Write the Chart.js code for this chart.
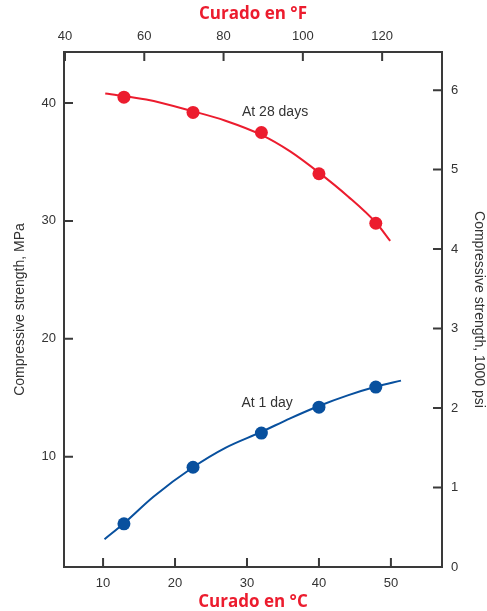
<!DOCTYPE html>
<html>
<head>
<meta charset="utf-8">
<script src="https://cdn.jsdelivr.net/npm/chart.js@4"></script>
<style>
  body { margin: 0; background: #fff; }
  #wrap { width: 487px; height: 611px; }
</style>
</head>
<body>
<div id="wrap"><canvas id="myChart" width="487" height="611"></canvas></div>
<script>
// measured points (°C, MPa)
const tempC = [12.9, 22.5, 32, 40, 47.9];
const strength28 = [40.5, 39.2, 37.5, 34.0, 29.8];
const strength1 = [4.3, 9.1, 12.0, 14.2, 15.9];

// fitted curves
const curve28C = [10.3, 16, 22.5, 27, 32, 36, 40, 44, 48, 49.9];
const curve28 = [40.8, 40.3, 39.3, 38.5, 37.3, 35.9, 34.1, 32.1, 29.8, 28.3];
const curve1C = [10.2, 13, 17, 22.5, 27, 32, 36, 40, 44, 48, 51.4];
const curve1 = [3.0, 4.4, 6.6, 9.1, 10.75, 12.1, 13.25, 14.3, 15.2, 15.95, 16.45];

// tick labels
const cTicks = [10, 20, 30, 40, 50];
const fTicks = [40, 60, 80, 100, 120];
const mpaTicks = [10, 20, 30, 40];
const psiTicks = [0, 1, 2, 3, 4, 5, 6];

// curve labels
const notes = ['At 28 days', 'At 1 day'];
const noteC = [33.9, 32.8];
const noteMPa = [39.2, 14.5];

const red = 'rgb(236, 28, 46)';
const blue = 'rgb(8, 80, 158)';
const ink = '#333';
const sans = 'Liberation Sans, Arial, sans-serif';
const tickFont = { family: sans, size: 13 };
const redFont = { family: 'Open Sans, sans-serif', size: 17, weight: 'bold' };

const toXY = (xs, ys) => xs.map((x, i) => ({ x: x, y: ys[i] }));

const setTicks = list => scale => { scale.ticks = list.map(v => ({ value: v })); };

// inward tick marks + curve labels
const decor = {
  id: 'decor',
  afterDraw(chart) {
    const ctx = chart.ctx;
    const a = chart.chartArea;
    const len = 9;
    ctx.save();
    ctx.strokeStyle = '#3a3a3a';
    ctx.lineWidth = 2;
    ctx.beginPath();
    chart.scales.x.ticks.forEach(t => {
      const px = chart.scales.x.getPixelForValue(t.value);
      ctx.moveTo(px, a.bottom); ctx.lineTo(px, a.bottom - len);
    });
    chart.scales.x2.ticks.forEach(t => {
      const px = chart.scales.x2.getPixelForValue(t.value);
      ctx.moveTo(px, a.top); ctx.lineTo(px, a.top + len);
    });
    chart.scales.y.ticks.forEach(t => {
      const py = chart.scales.y.getPixelForValue(t.value);
      ctx.moveTo(a.left, py); ctx.lineTo(a.left + len, py);
    });
    chart.scales.y2.ticks.forEach(t => {
      const py = chart.scales.y2.getPixelForValue(t.value);
      ctx.moveTo(a.right, py); ctx.lineTo(a.right - len, py);
    });
    ctx.stroke();

    ctx.fillStyle = ink;
    ctx.font = '14px ' + sans;
    ctx.textAlign = 'center';
    ctx.textBaseline = 'middle';
    notes.forEach((n, i) => {
      ctx.fillText(n, chart.scales.x.getPixelForValue(noteC[i]), chart.scales.y.getPixelForValue(noteMPa[i]));
    });
    ctx.restore();
  }
};

const ctx = document.getElementById('myChart').getContext('2d');
const chart = new Chart(ctx, {
  type: 'scatter',
  data: {
    datasets: [
      {
        label: 'At 28 days',
        data: toXY(tempC, strength28),
        backgroundColor: red,
        borderWidth: 0,
        pointRadius: 6.5,
        xAxisID: 'x', yAxisID: 'y'
      },
      {
        label: 'At 1 day',
        data: toXY(tempC, strength1),
        backgroundColor: blue,
        borderWidth: 0,
        pointRadius: 6.5,
        xAxisID: 'x', yAxisID: 'y'
      },
      {
        label: '28 days fit',
        data: toXY(curve28C, curve28),
        showLine: true,
        borderColor: red,
        borderWidth: 2,
        pointRadius: 0,
        cubicInterpolationMode: 'monotone',
        xAxisID: 'x', yAxisID: 'y'
      },
      {
        label: '1 day fit',
        data: toXY(curve1C, curve1),
        showLine: true,
        borderColor: blue,
        borderWidth: 2,
        pointRadius: 0,
        cubicInterpolationMode: 'monotone',
        xAxisID: 'x', yAxisID: 'y'
      }
    ]
  },
  options: {
    responsive: false,
    animation: false,
    layout: { padding: 0 },
    plugins: { legend: { display: false }, tooltip: { enabled: false } },
    scales: {
      x: {
        type: 'linear', position: 'bottom', min: 4.57, max: 57.1,
        afterBuildTicks: setTicks(cTicks),
        afterFit: s => { s.height = 44; },
        grid: { display: false, drawTicks: false },
        border: { display: true, color: '#3a3a3a', width: 2 },
        ticks: { color: ink, font: tickFont, padding: 9, maxRotation: 0 },
        title: { display: true, text: 'Curado en °C', color: red, font: redFont, padding: { top: 0, bottom: -1 } }
      },
      x2: {
        type: 'linear', position: 'top', min: 39.75, max: 135.1,
        afterBuildTicks: setTicks(fTicks),
        afterFit: s => { s.height = 52; },
        grid: { display: false, drawTicks: false },
        border: { display: true, color: '#3a3a3a', width: 2 },
        ticks: { color: ink, font: tickFont, padding: 8, maxRotation: 0 },
        title: { display: true, text: 'Curado en °F', color: red, font: redFont, padding: { top: 4, bottom: 0 } }
      },
      y: {
        type: 'linear', position: 'left', min: 0.64, max: 44.33,
        afterBuildTicks: setTicks(mpaTicks),
        afterFit: s => { s.width = 64; },
        grid: { display: false, drawTicks: false },
        border: { display: true, color: '#3a3a3a', width: 2 },
        ticks: { color: ink, font: tickFont, padding: 8 },
        title: { display: true, text: 'Compressive strength, MPa', color: ink,
          font: { family: sans, size: 14 }, padding: { top: 12, bottom: 0 } }
      },
      y2: {
        type: 'linear', position: 'right', min: 0, max: 6.48,
        afterBuildTicks: setTicks(psiTicks),
        afterFit: s => { s.width = 45; },
        grid: { display: false, drawTicks: false },
        border: { display: true, color: '#3a3a3a', width: 2 },
        ticks: { color: ink, font: tickFont, padding: 9 },
        title: { display: true, text: 'Compressive strength, 1000 psi', color: ink,
          font: { family: sans, size: 14 }, padding: { top: 0, bottom: 0 } }
      }
    }
  },
  plugins: [decor]
});
</script>
</body>
</html>
